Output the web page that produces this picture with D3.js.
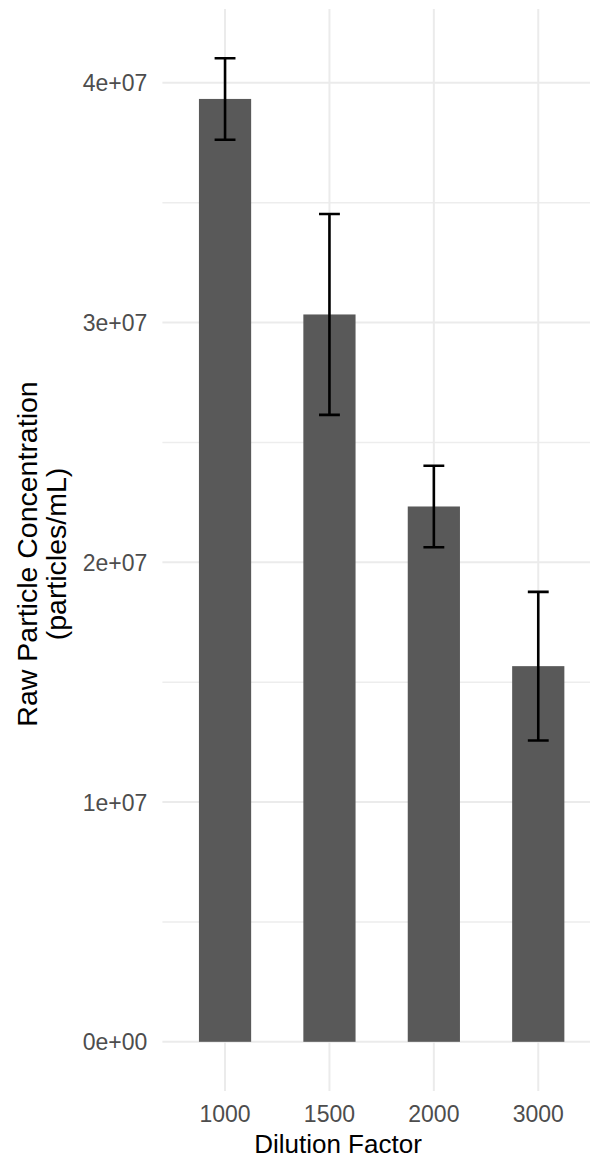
<!DOCTYPE html>
<html>
<head>
<meta charset="utf-8">
<script src="https://cdn.jsdelivr.net/npm/d3@7"></script>
<style>
  body { margin: 0; background: #fff; }
  svg { display: block; overflow: hidden; }
</style>
</head>
<body>
<script>
// Size
var w = 590;
var h = 1161;

// Data
var dilutions = ["1000", "1500", "2000", "3000"];
var means = [39.33e6, 30.34e6, 22.33e6, 15.67e6];
var errors = [1.70e6, 4.19e6, 1.70e6, 3.10e6];
var yTicks = [0, 1e7, 2e7, 3e7, 4e7];
var yMinorTicks = [0.5e7, 1.5e7, 2.5e7, 3.5e7];

// Panel (right edge runs past the picture, as in the original)
var panelL = 162.4, panelR = 600.9, panelT = 9, panelB = 1091;

var svg = d3.select("body")
            .append("svg")
            .attr("width", w)
            .attr("height", h);

var x = d3.scaleBand()
          .domain(dilutions)
          .range([panelL, panelR])
          .paddingInner(0.5)
          .paddingOuter(0.35);

// ggplot style 5% expansion
var yMax = d3.max(means, function(d, i) { return d + errors[i]; });
var pad = yMax * 0.05;
var y = d3.scaleLinear()
          .domain([-pad, yMax + pad])
          .range([panelB, panelT]);

function sci(v) {
  if (v === 0) return "0e+00";
  return d3.format(".0e")(v).replace(/e([+-])(\d)$/, "e$10$2");
}

// Grid
svg.selectAll("line.minor")
   .data(yMinorTicks)
   .enter()
   .append("line")
   .attr("x1", panelL).attr("x2", panelR + 10)
   .attr("y1", function(d) { return y(d); })
   .attr("y2", function(d) { return y(d); })
   .attr("stroke", "#ededed")
   .attr("stroke-width", 1.6);

svg.selectAll("line.major")
   .data(yTicks)
   .enter()
   .append("line")
   .attr("x1", panelL).attr("x2", panelR + 10)
   .attr("y1", function(d) { return y(d); })
   .attr("y2", function(d) { return y(d); })
   .attr("stroke", "#ebebeb")
   .attr("stroke-width", 2);

svg.selectAll("line.vgrid")
   .data(dilutions)
   .enter()
   .append("line")
   .attr("x1", function(d) { return x(d) + x.bandwidth() / 2; })
   .attr("x2", function(d) { return x(d) + x.bandwidth() / 2; })
   .attr("y1", panelT).attr("y2", panelB)
   .attr("stroke", "#ebebeb")
   .attr("stroke-width", 2);

// Bars
svg.selectAll("rect")
   .data(means)
   .enter()
   .append("rect")
   .attr("x", function(d, i) { return x(dilutions[i]); })
   .attr("y", function(d) { return y(d); })
   .attr("width", x.bandwidth())
   .attr("height", function(d) { return y(0) - y(d); })
   .attr("fill", "#595959");

// Error bars
var capW = x.step() * 0.2;
var eb = svg.selectAll("g.err")
            .data(means)
            .enter()
            .append("g")
            .attr("stroke", "#000")
            .attr("stroke-width", 2.6)
            .attr("fill", "none");

eb.append("path")
  .attr("d", function(d, i) {
    var cx = x(dilutions[i]) + x.bandwidth() / 2;
    var hi = y(d + errors[i]), lo = y(d - errors[i]);
    return "M" + (cx - capW / 2) + "," + hi + "H" + (cx + capW / 2) +
           "M" + cx + "," + hi + "V" + lo +
           "M" + (cx - capW / 2) + "," + lo + "H" + (cx + capW / 2);
  });

// Y tick labels
svg.selectAll("text.ytick")
   .data(yTicks)
   .enter()
   .append("text")
   .text(function(d) { return sci(d); })
   .attr("text-anchor", "end")
   .attr("x", panelL - 15)
   .attr("y", function(d) { return y(d) + 8.5; })
   .attr("font-family", "Liberation Sans, Arial, sans-serif")
   .attr("font-size", "23px")
   .attr("fill", "#4d4d4d");

// X tick labels
svg.selectAll("text.xtick")
   .data(dilutions)
   .enter()
   .append("text")
   .text(function(d) { return d; })
   .attr("text-anchor", "middle")
   .attr("x", function(d) { return x(d) + x.bandwidth() / 2; })
   .attr("y", 1121.5)
   .attr("font-family", "Liberation Sans, Arial, sans-serif")
   .attr("font-size", "23px")
   .attr("fill", "#4d4d4d");

// Axis titles
svg.append("text")
   .text("Dilution Factor")
   .attr("text-anchor", "middle")
   .attr("x", 338)
   .attr("y", 1153)
   .attr("font-family", "Liberation Sans, Arial, sans-serif")
   .attr("font-size", "26px")
   .attr("fill", "#000");

var yt = svg.append("text")
            .attr("text-anchor", "middle")
            .attr("transform", "translate(0,554) rotate(-90)")
            .attr("font-family", "Liberation Sans, Arial, sans-serif")
            .attr("font-size", "28.5px")
            .attr("fill", "#000");
yt.append("tspan").attr("x", 0).attr("y", 37).text("Raw Particle Concentration");
yt.append("tspan").attr("x", 0).attr("y", 66).text("(particles/mL)");
</script>
</body>
</html>
